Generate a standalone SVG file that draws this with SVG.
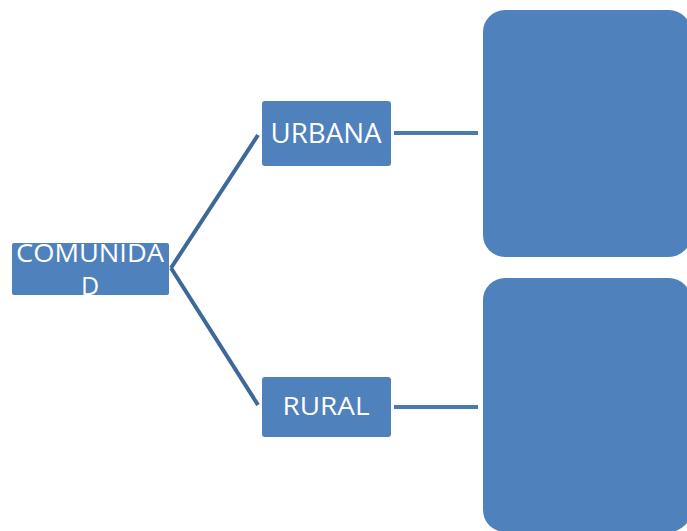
<svg xmlns="http://www.w3.org/2000/svg" width="687" height="531" viewBox="0 0 687 531">
<style>
.box{fill:#4f81bd;}
.lbl{fill:#ffffff;font-family:"Open Sans","Liberation Sans",sans-serif;text-anchor:middle;}
.conn{stroke:#3d6898;stroke-width:4;fill:none;stroke-linecap:butt;}
.hconn{stroke:#4a7ab4;stroke-width:4;fill:none;}
</style>
<rect width="687" height="531" fill="#ffffff"/>
<g id="connectors">
<line class="conn" x1="171" y1="268" x2="258" y2="135"/>
<line class="conn" x1="171" y1="268" x2="258" y2="405"/>
<line class="hconn" x1="394" y1="133" x2="478" y2="133"/>
<line class="hconn" x1="394" y1="407" x2="478" y2="407"/>
</g>
<g id="comunidad">
<rect class="box" x="12" y="243" width="157" height="52" rx="2"/>
<text class="lbl" x="90" y="262" font-size="25" textLength="148" lengthAdjust="spacingAndGlyphs">COMUNIDA</text>
<text class="lbl" x="90" y="295" font-size="25">D</text>
</g>
<g id="urbana">
<rect class="box" x="262" y="101" width="129" height="65" rx="3"/>
<text class="lbl" x="326" y="143" font-size="28" textLength="111" lengthAdjust="spacingAndGlyphs">URBANA</text>
</g>
<g id="rural">
<rect class="box" x="262" y="377" width="129" height="60" rx="3"/>
<text class="lbl" x="326" y="415" font-size="26" textLength="87" lengthAdjust="spacingAndGlyphs">RURAL</text>
</g>
<g id="box-top">
<rect class="box" x="483" y="10" width="208" height="247" rx="22"/>
</g>
<g id="box-bottom">
<rect class="box" x="483" y="278" width="208" height="254" rx="22"/>
</g>
</svg>
